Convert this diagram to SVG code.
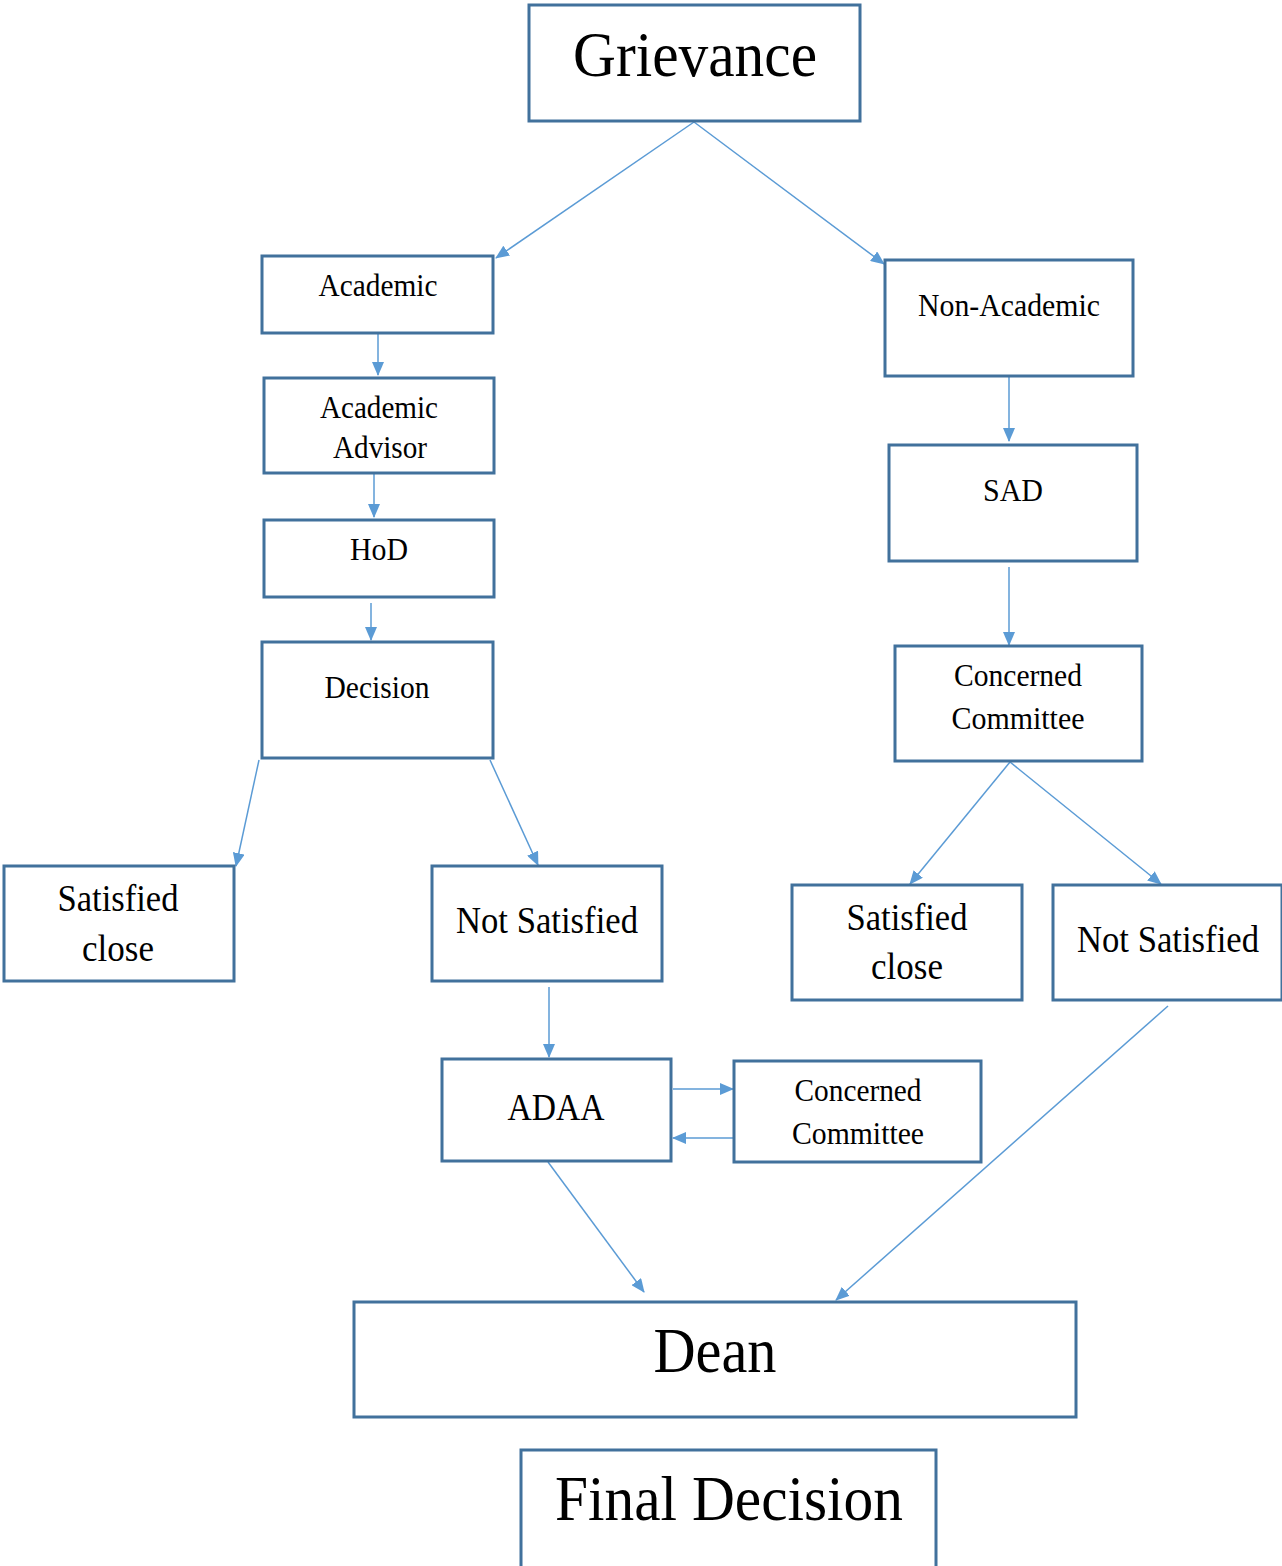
<svg xmlns="http://www.w3.org/2000/svg" width="1282" height="1566" viewBox="0 0 1282 1566">
<style>
.box{fill:#fff;stroke:#41719C;stroke-width:3}
.c{fill:none;stroke:#5B9BD5;stroke-width:1.5;marker-end:url(#ah)}
text{font-family:"Liberation Serif","Times New Roman",serif;fill:#000;text-anchor:middle}
.xl{font-size:64px}
.m{font-size:32px}
.l{font-size:38px}
</style>
<defs>
<marker id="ah" markerUnits="userSpaceOnUse" markerWidth="14" markerHeight="12" refX="13" refY="6" orient="auto">
<path d="M0,0 L14,6 L0,12 Z" fill="#5B9BD5"/>
</marker>
</defs>
<rect width="1282" height="1566" fill="#fff"/>
<g id="connectors">
<line class="c" x1="694" y1="122" x2="496" y2="258"/>
<line class="c" x1="694" y1="122" x2="884" y2="264"/>
<line class="c" x1="378" y1="334" x2="378" y2="375"/>
<line class="c" x1="374" y1="474" x2="374" y2="517"/>
<line class="c" x1="371" y1="603" x2="371" y2="640"/>
<line class="c" x1="259" y1="760" x2="236" y2="866"/>
<line class="c" x1="490" y1="760" x2="538" y2="865"/>
<line class="c" x1="1009" y1="377" x2="1009" y2="441"/>
<line class="c" x1="1009" y1="567" x2="1009" y2="645"/>
<line class="c" x1="1010" y1="762" x2="910" y2="884"/>
<line class="c" x1="1010" y1="762" x2="1161" y2="884"/>
<line class="c" x1="549" y1="987" x2="549" y2="1057"/>
<line class="c" x1="673" y1="1089" x2="733" y2="1089"/>
<line class="c" x1="733" y1="1138" x2="673" y2="1138"/>
<line class="c" x1="548" y1="1162" x2="644" y2="1292"/>
<line class="c" x1="1168" y1="1006" x2="836" y2="1300"/>
</g>
<g id="grievance"><rect class="box" x="529" y="5" width="331" height="116"/><text class="xl" x="695" y="76" textLength="244" lengthAdjust="spacingAndGlyphs">Grievance</text></g>
<g id="academic"><rect class="box" x="262" y="256" width="231" height="77"/><text class="m" x="378" y="296" textLength="119" lengthAdjust="spacingAndGlyphs">Academic</text></g>
<g id="academic-advisor"><rect class="box" x="264" y="378" width="230" height="95"/><text class="m" x="379" y="418" textLength="118" lengthAdjust="spacingAndGlyphs">Academic</text><text class="m" x="380" y="458" textLength="94" lengthAdjust="spacingAndGlyphs">Advisor</text></g>
<g id="hod"><rect class="box" x="264" y="520" width="230" height="77"/><text class="m" x="379" y="560" textLength="58" lengthAdjust="spacingAndGlyphs">HoD</text></g>
<g id="decision"><rect class="box" x="262" y="642" width="231" height="116"/><text class="m" x="377" y="698" textLength="105" lengthAdjust="spacingAndGlyphs">Decision</text></g>
<g id="satisfied-left"><rect class="box" x="4" y="866" width="230" height="115"/><text class="l" x="118" y="911" textLength="121" lengthAdjust="spacingAndGlyphs">Satisfied</text><text class="l" x="118" y="961" textLength="72" lengthAdjust="spacingAndGlyphs">close</text></g>
<g id="not-satisfied-left"><rect class="box" x="432" y="866" width="230" height="115"/><text class="l" x="547" y="933" textLength="182" lengthAdjust="spacingAndGlyphs">Not Satisfied</text></g>
<g id="adaa"><rect class="box" x="442" y="1059" width="229" height="102"/><text class="l" x="556" y="1120" textLength="97" lengthAdjust="spacingAndGlyphs">ADAA</text></g>
<g id="concerned-committee-bottom"><rect class="box" x="734" y="1061" width="247" height="101"/><text class="m" x="858" y="1101" textLength="127" lengthAdjust="spacingAndGlyphs">Concerned</text><text class="m" x="858" y="1144" textLength="132" lengthAdjust="spacingAndGlyphs">Committee</text></g>
<g id="non-academic"><rect class="box" x="885" y="260" width="248" height="116"/><text class="m" x="1009" y="316" textLength="182" lengthAdjust="spacingAndGlyphs">Non-Academic</text></g>
<g id="sad"><rect class="box" x="889" y="445" width="248" height="116"/><text class="m" x="1013" y="501" textLength="60" lengthAdjust="spacingAndGlyphs">SAD</text></g>
<g id="concerned-committee-right"><rect class="box" x="895" y="646" width="247" height="115"/><text class="m" x="1018" y="686" textLength="128" lengthAdjust="spacingAndGlyphs">Concerned</text><text class="m" x="1018" y="729" textLength="133" lengthAdjust="spacingAndGlyphs">Committee</text></g>
<g id="satisfied-right"><rect class="box" x="792" y="885" width="230" height="115"/><text class="l" x="907" y="930" textLength="121" lengthAdjust="spacingAndGlyphs">Satisfied</text><text class="l" x="907" y="979" textLength="72" lengthAdjust="spacingAndGlyphs">close</text></g>
<g id="not-satisfied-right"><rect class="box" x="1053" y="885" width="229" height="115"/><text class="l" x="1168" y="952" textLength="182" lengthAdjust="spacingAndGlyphs">Not Satisfied</text></g>
<g id="dean"><rect class="box" x="354" y="1302" width="722" height="115"/><text class="xl" x="715" y="1372" textLength="123" lengthAdjust="spacingAndGlyphs">Dean</text></g>
<g id="final-decision"><rect class="box" x="521" y="1450" width="415" height="118"/><text class="xl" x="729" y="1520" textLength="348" lengthAdjust="spacingAndGlyphs">Final Decision</text></g>
</svg>
